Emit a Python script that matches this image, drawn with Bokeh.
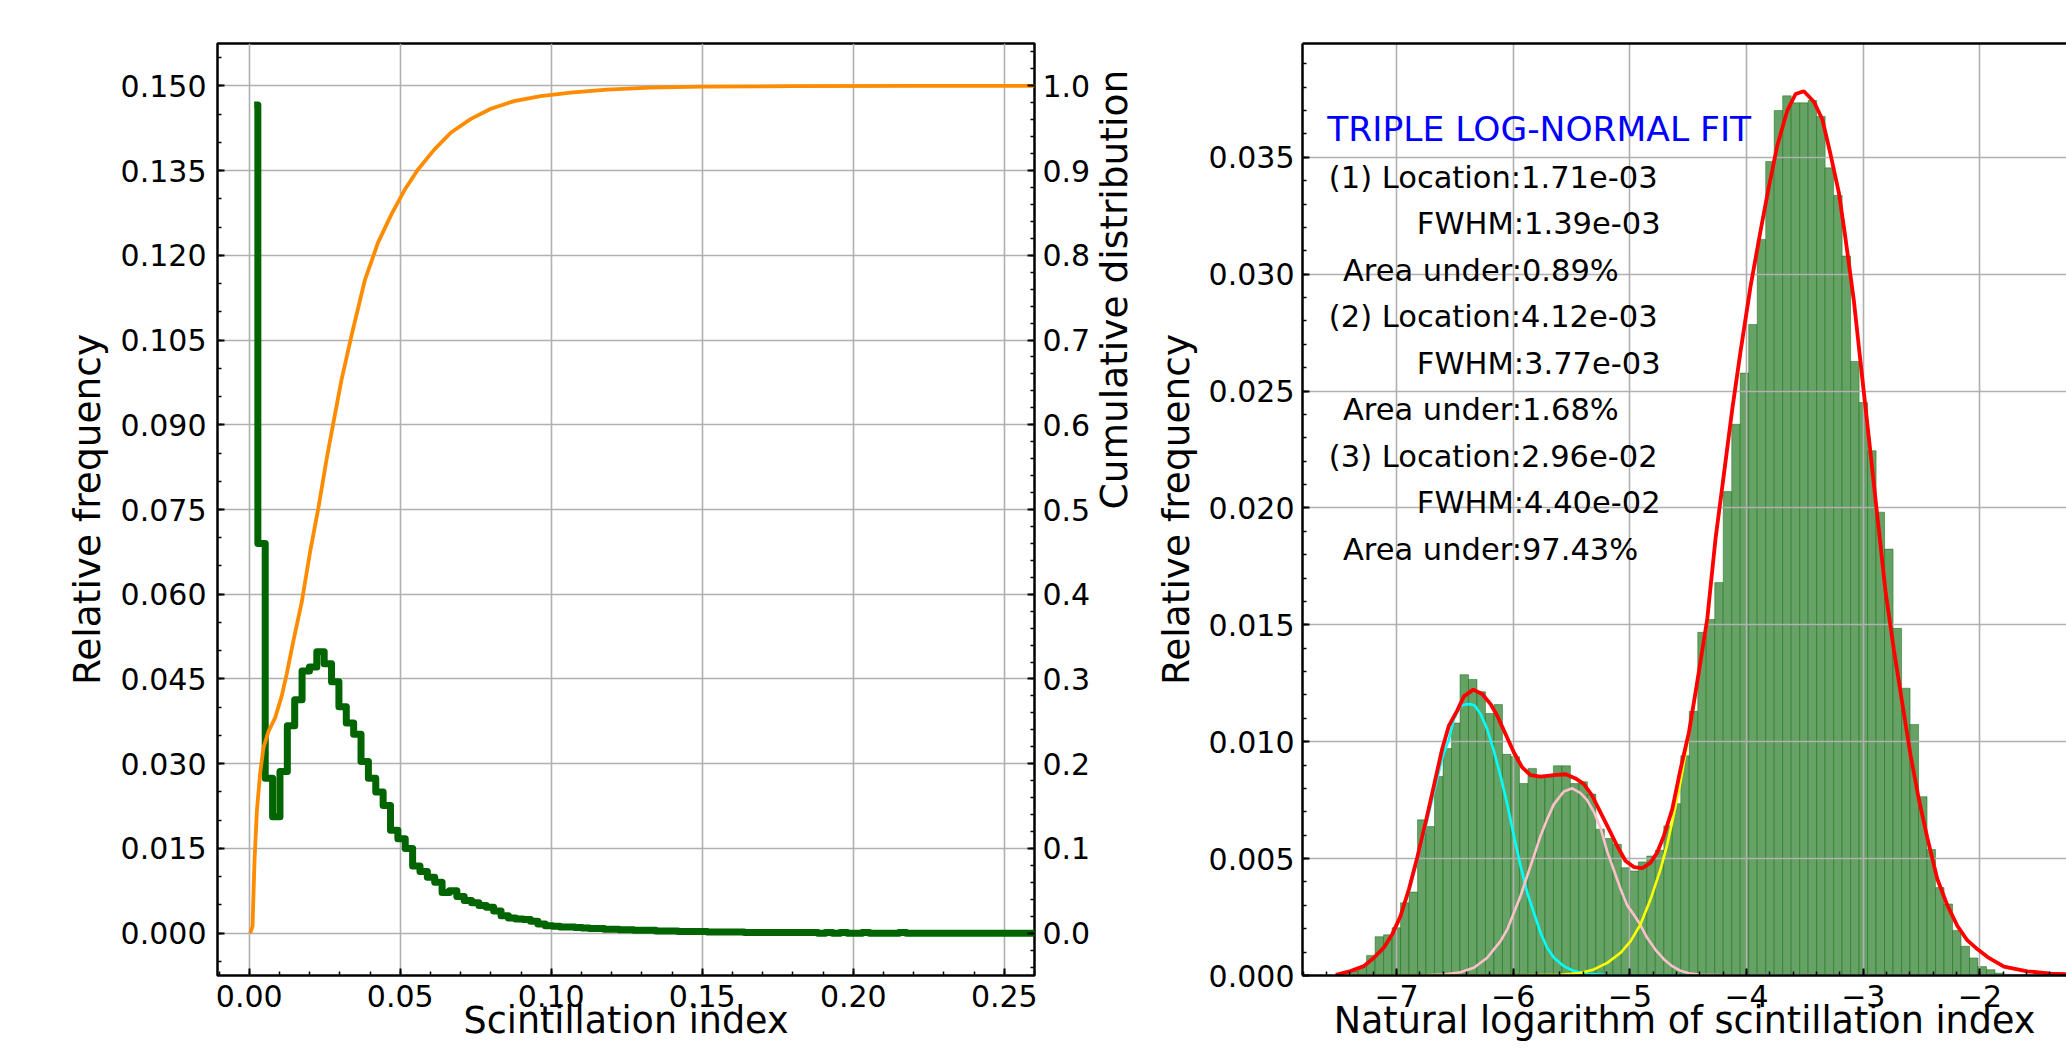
import math
import numpy as np
from bokeh.plotting import figure
from bokeh.layouts import row
from bokeh.models import Range1d, LinearAxis, FixedTicker, NumeralTickFormatter, Label
from bokeh.embed import file_html
from bokeh.resources import INLINE

FONT = "DejaVu Sans"

# ---------------- left panel data ----------------
step_first_center = 0.00164
step_bin_width = 0.00244
step_freq = [
    0.1466, 0.0690, 0.0274, 0.0206, 0.0286, 0.0367, 0.0413, 0.0464, 0.0471, 0.0498,
    0.0477, 0.0445, 0.0401, 0.0372, 0.0352, 0.0304, 0.0274, 0.0250, 0.0226, 0.0182,
    0.0167, 0.0150, 0.0119, 0.0109, 0.0099, 0.0090, 0.0072, 0.0075, 0.0065, 0.0058,
    0.0054, 0.0049, 0.0046, 0.0039, 0.0031, 0.0027, 0.0025, 0.0024, 0.0021, 0.0016,
    0.0013, 0.0012, 0.0011, 0.0011, 0.0010, 0.0009, 0.0008, 0.0008, 0.0007, 0.0007,
    0.0006, 0.0006, 0.0005, 0.0005, 0.0005, 0.0004, 0.0004, 0.0004, 0.0003, 0.0003,
    0.0003, 0.0003, 0.0002, 0.0002, 0.0002, 0.0002, 0.0002, 0.0001, 0.0001, 0.0001,
    0.0001, 0.0001, 0.0001, 0.0001, 0.0001, 0.0001, 0.0001, 0.0000, 0.0001, 0.0000,
    0.0001, 0.0000, 0.0000, 0.0001, 0.0000, 0.0000, 0.0000, 0.0000, 0.0001, 0.0000,
    0.0000, 0.0000, 0.0000, 0.0000, 0.0000, 0.0000, 0.0000, 0.0000, 0.0000, 0.0000,
    0.0000, 0.0000, 0.0000, 0.0000, 0.0000, 0.0000, 0.0000,
]
cdf_x = [0.00033, 0.0011, 0.00176, 0.00253, 0.00363, 0.00473, 0.00637, 0.00857, 0.01077,
         0.01242, 0.01462, 0.01736, 0.02011, 0.02286, 0.0256, 0.0278, 0.03055, 0.03385,
         0.03824, 0.04264, 0.04703, 0.05143, 0.05582, 0.06132, 0.06681, 0.07341, 0.08,
         0.08769, 0.09648, 0.10637, 0.11846, 0.13275, 0.15, 0.18, 0.22, 0.26]
cdf_y = [0.0, 0.008, 0.086, 0.144, 0.189, 0.219, 0.238, 0.254, 0.280,
         0.306, 0.345, 0.390, 0.449, 0.501, 0.559, 0.601, 0.653, 0.705,
         0.770, 0.815, 0.848, 0.877, 0.901, 0.925, 0.945, 0.961, 0.973,
         0.982, 0.988, 0.992, 0.9955, 0.998, 0.999, 0.9997, 1.0, 1.0]

x1_ticks = [0.0, 0.05, 0.10, 0.15, 0.20, 0.25]
y1_ticks = [0.0, 0.015, 0.030, 0.045, 0.060, 0.075, 0.090, 0.105, 0.120, 0.135, 0.150]
cdf_ticks = [0.0, 0.1, 0.2, 0.3, 0.4, 0.5, 0.6, 0.7, 0.8, 0.9, 1.0]

# ---------------- right panel data ----------------
hist_first_edge = -7.475
hist_bin_width = 0.07278
hist_freq = [
    0.00004, 0.00019, 0.00037, 0.00086, 0.00166, 0.00174, 0.00204, 0.00311, 0.00357, 0.00666,
    0.00637, 0.00851, 0.00971, 0.01080, 0.01287, 0.01266, 0.01214, 0.01121, 0.01159, 0.00946,
    0.00936, 0.00821, 0.00886, 0.00850, 0.00850, 0.00897, 0.00897, 0.00821, 0.00829, 0.00776,
    0.00626, 0.00586, 0.00561, 0.00461, 0.00447, 0.00486, 0.00511, 0.00536, 0.00640, 0.00735,
    0.00940, 0.01130, 0.01468, 0.01523, 0.01681, 0.02070, 0.02358, 0.02577, 0.02785, 0.03149,
    0.03482, 0.03700, 0.03763, 0.03733, 0.03733, 0.03743, 0.03675, 0.03455, 0.03337, 0.03078,
    0.02627, 0.02451, 0.02245, 0.01982, 0.01824, 0.01485, 0.01229, 0.01074, 0.00765, 0.00539,
    0.00376, 0.00306, 0.00193, 0.00125, 0.00075, 0.00038, 0.00025, 0.00010, 0.00005,
]

total_x = [-7.52, -7.394, -7.28, -7.194, -7.109, -7.037, -6.966, -6.894, -6.823, -6.751,
           -6.68, -6.609, -6.551, -6.48, -6.423, -6.343, -6.266, -6.194, -6.137, -6.066,
           -5.994, -5.923, -5.851, -5.766, -5.651, -5.551, -5.466, -5.394, -5.323, -5.251,
           -5.18, -5.109, -5.037, -4.966, -4.894, -4.823, -4.766, -4.709, -4.637, -4.566,
           -4.494, -4.423, -4.337, -4.266, -4.194, -4.123, -4.051, -3.966, -3.88, -3.809,
           -3.737, -3.651, -3.58, -3.509, -3.423, -3.351, -3.28, -3.209, -3.151, -3.08,
           -3.023, -2.951, -2.88, -2.809, -2.737, -2.666, -2.594, -2.523, -2.451, -2.366,
           -2.28, -2.194, -2.109, -2.023, -1.923, -1.794, -1.594, -1.394, -1.2]
total_y = [0.00003, 0.00019, 0.0004, 0.00076, 0.00119, 0.00176, 0.00254, 0.00369, 0.00504, 0.00654,
           0.00811, 0.00969, 0.01069, 0.01133, 0.01194, 0.01223, 0.01204, 0.01161, 0.01111, 0.01033,
           0.00954, 0.0089, 0.00857, 0.00851, 0.00857, 0.00861, 0.00843, 0.00819, 0.00769, 0.00697,
           0.00626, 0.00554, 0.0049, 0.00464, 0.00459, 0.00483, 0.00526, 0.00597, 0.00711, 0.00883,
           0.0104, 0.01255, 0.01525, 0.01869, 0.02145, 0.02421, 0.02672, 0.02948, 0.03186, 0.03374,
           0.0355, 0.037, 0.03771, 0.03783, 0.03738, 0.03663, 0.03512, 0.03349, 0.03149, 0.02885,
           0.02622, 0.02296, 0.01969, 0.01643, 0.01392, 0.01167, 0.00941, 0.00753, 0.0059, 0.00414,
           0.00301, 0.00213, 0.00151, 0.00113, 0.00075, 0.00038, 0.00018, 0.00008, 0.00004]

comp1_x = [-7.52, -7.394, -7.28, -7.194, -7.109, -7.037, -6.966, -6.894, -6.823, -6.751,
           -6.68, -6.609, -6.551, -6.509, -6.451, -6.4, -6.37, -6.33, -6.28, -6.223,
           -6.166, -6.109, -6.051, -5.994, -5.937, -5.88, -5.823, -5.766, -5.709, -5.651,
           -5.566, -5.48, -5.366, -5.2, -5.0, -1.2]
comp1_y = [0.00003, 0.00019, 0.0004, 0.00075, 0.00117, 0.00172, 0.00248, 0.0036, 0.0049, 0.00635,
           0.00785, 0.0093, 0.0101, 0.01097, 0.01154, 0.0116, 0.01161, 0.01155, 0.01119, 0.01054,
           0.00961, 0.00854, 0.00733, 0.00597, 0.00469, 0.00354, 0.00269, 0.00183, 0.00119, 0.00076,
           0.0004, 0.00019, 0.00007, 0.00002, 0.0, 0.0]

comp2_x = [-7.52, -6.8, -6.594, -6.451, -6.337, -6.223, -6.109, -6.051, -5.994, -5.937,
           -5.88, -5.823, -5.766, -5.709, -5.651, -5.566, -5.494, -5.423, -5.366, -5.309,
           -5.251, -5.194, -5.137, -5.08, -5.023, -4.966, -4.914, -4.851, -4.78, -4.709,
           -4.637, -4.566, -4.494, -4.4, -4.1, -1.2]
comp2_y = [0.0, 0.0, 0.00004, 0.00014, 0.00033, 0.00076, 0.00147, 0.00197, 0.00269, 0.0034,
           0.00426, 0.00511, 0.00597, 0.00669, 0.00733, 0.00787, 0.00801, 0.0078, 0.0075, 0.0070,
           0.0063, 0.0053, 0.0045, 0.0037, 0.0030, 0.0026, 0.0022, 0.0016, 0.0011, 0.0007,
           0.0004, 0.0002, 0.0001, 0.00003, 0.0, 0.0]

comp3_x = [-7.52, -6.0, -5.594, -5.423, -5.309, -5.194, -5.08, -4.994, -4.909, -4.823,
           -4.737, -4.68, -4.623, -4.566, -4.509, -4.451, -4.394, -4.337, -4.266, -4.194,
           -4.123, -4.051, -3.966, -3.88, -3.809, -3.737, -3.651, -3.58, -3.509, -3.423,
           -3.351, -3.28, -3.209, -3.151, -3.08, -3.023, -2.951, -2.88, -2.809, -2.737,
           -2.666, -2.594, -2.523, -2.451, -2.366, -2.28, -2.194, -2.109, -2.023, -1.923,
           -1.794, -1.594, -1.394, -1.2]
comp3_y = [0.0, 0.0, 0.00003, 0.00011, 0.00026, 0.00054, 0.00097, 0.00147, 0.00219, 0.00326,
           0.00455, 0.0056, 0.0069, 0.0083, 0.0099, 0.0116, 0.0135, 0.0151, 0.01869, 0.02145,
           0.02421, 0.02672, 0.02948, 0.03186, 0.03374, 0.0355, 0.037, 0.03771, 0.03783, 0.03738,
           0.03663, 0.03512, 0.03349, 0.03149, 0.02885, 0.02622, 0.02296, 0.01969, 0.01643, 0.01392,
           0.01167, 0.00941, 0.00753, 0.0059, 0.00414, 0.00301, 0.00213, 0.00151, 0.00113, 0.00075,
           0.00038, 0.00018, 0.00008, 0.00004]

x2_ticks = [-7, -6, -5, -4, -3, -2]
x2_tick_labels = ["\u22127", "\u22126", "\u22125", "\u22124", "\u22123", "\u22122"]
y2_ticks = [0.0, 0.005, 0.010, 0.015, 0.020, 0.025, 0.030, 0.035]

fit_title = "TRIPLE LOG-NORMAL FIT"
fit_lines = [
    "(1) Location:1.71e-03",
    "FWHM:1.39e-03",
    "Area under:0.89%",
    "(2) Location:4.12e-03",
    "FWHM:3.77e-03",
    "Area under:1.68%",
    "(3) Location:2.96e-02",
    "FWHM:4.40e-02",
    "Area under:97.43%",
]

FRAME_TOP = 43
FRAME_BOTTOM = 975
FIG_H = 1051
OVERLAP = 11


def style_axis(ax):
    ax.major_label_text_font = FONT
    ax.major_label_text_font_size = "30px"
    ax.major_label_text_color = "black"
    ax.axis_label_text_font = FONT
    ax.axis_label_text_font_size = "37.5px"
    ax.axis_label_text_font_style = "normal"
    ax.axis_label_text_color = "black"
    ax.major_tick_in = 7
    ax.major_tick_out = 0
    ax.minor_tick_in = 4
    ax.minor_tick_out = 0
    ax.major_tick_line_width = 2
    ax.minor_tick_line_width = 1.5
    ax.major_tick_line_color = "black"
    ax.minor_tick_line_color = "black"
    ax.major_label_standoff = 10


def style_grid(g):
    g.grid_line_color = "#b0b0b0"
    g.grid_line_width = 1.6


# ================= left figure =================
p1 = figure(width=1150 + OVERLAP, height=FIG_H, x_range=Range1d(-0.0105, 0.26),
            y_range=Range1d(-0.0075, 0.1575), output_backend="svg",
            toolbar_location=None, title=None,
            min_border_left=217, min_border_right=116 + OVERLAP, min_border_top=FRAME_TOP,
            min_border_bottom=FIG_H - FRAME_BOTTOM)
p1.background_fill_color = "white"
p1.border_fill_color = "white"
p1.outline_line_color = "black"
p1.outline_line_width = 2.5
p1.extra_y_ranges = {"cdf": Range1d(-0.05, 1.05)}

xt1 = FixedTicker(ticks=x1_ticks, minor_ticks=list(np.round(np.arange(-0.01, 0.2601, 0.01), 4)))
yt1 = FixedTicker(ticks=y1_ticks, minor_ticks=list(np.round(np.arange(-0.005, 0.1551, 0.005), 4)))
ct1 = FixedTicker(ticks=cdf_ticks, minor_ticks=list(np.round(np.arange(-0.04, 1.041, 0.02), 4)))

p1.xaxis.ticker = xt1
p1.yaxis.ticker = yt1
p1.xgrid.ticker = xt1
p1.ygrid.ticker = yt1
p1.xaxis.formatter = NumeralTickFormatter(format="0.00")
p1.yaxis.formatter = NumeralTickFormatter(format="0.000")
p1.yaxis.axis_label = "Relative frequency"
p1.xaxis.axis_label = "Scintillation index"
for ax in p1.xaxis + p1.yaxis:
    style_axis(ax)
    ax.axis_line_color = None
p1.xaxis.major_label_standoff = 9
p1.xaxis.axis_label_text_font_size = "36.5px"
p1.xaxis.axis_label_standoff = -11
p1.yaxis.major_label_standoff = 11
p1.yaxis.axis_label_standoff = 9
style_grid(p1.xgrid[0])
style_grid(p1.ygrid[0])

cax = LinearAxis(y_range_name="cdf", ticker=ct1, formatter=NumeralTickFormatter(format="0.0"),
                 axis_label="Cumulative distribution")
style_axis(cax)
cax.axis_line_color = None
cax.major_label_standoff = 8
cax.axis_label_orientation = math.pi / 2
cax.axis_label_standoff = 21
p1.add_layout(cax, "right")

step_centers = [step_first_center + i * step_bin_width for i in range(len(step_freq))]
p1.step(x=step_centers, y=step_freq, mode="center", line_color="darkgreen",
        line_width=7, line_join="round")
p1.line(cdf_x, cdf_y, y_range_name="cdf", line_color="darkorange", line_width=3.8)

# ================= right figure =================
p2 = figure(width=916, height=FIG_H, x_range=Range1d(-7.806, -1.258),
            y_range=Range1d(0.0, 0.03987), output_backend="svg",
            toolbar_location=None, title=None, margin=(0, 0, 0, -OVERLAP),
            min_border_left=152, min_border_right=0, min_border_top=FRAME_TOP,
            min_border_bottom=FIG_H - FRAME_BOTTOM)
p2.background_fill_color = "white"
p2.border_fill_color = None
p2.outline_line_color = None

xt2 = FixedTicker(ticks=x2_ticks, minor_ticks=list(np.round(np.arange(-7.8, -1.3, 0.2), 4)))
yt2 = FixedTicker(ticks=y2_ticks, minor_ticks=list(np.round(np.arange(0.0, 0.0395, 0.001), 4)))
p2.xaxis.ticker = xt2
p2.yaxis.ticker = yt2
p2.xgrid.ticker = xt2
p2.ygrid.ticker = yt2
p2.xaxis.major_label_overrides = {t: l for t, l in zip(x2_ticks, x2_tick_labels)}
p2.yaxis.formatter = NumeralTickFormatter(format="0.000")
p2.yaxis.axis_label = "Relative frequency"
p2.xaxis.axis_label = "Natural logarithm of scintillation index"
for ax in p2.xaxis + p2.yaxis:
    style_axis(ax)
    ax.axis_line_color = "black"
    ax.axis_line_width = 2.5
p2.xaxis.major_label_standoff = 9
p2.xaxis.axis_label_text_font_size = "36.5px"
p2.xaxis.axis_label_standoff = -11
p2.yaxis.major_label_standoff = 8
p2.yaxis.axis_label_standoff = 8
style_grid(p2.xgrid[0])
style_grid(p2.ygrid[0])

top_ax = LinearAxis(ticker=FixedTicker(ticks=[]), major_tick_in=0, major_tick_out=0,
                    minor_tick_in=0, minor_tick_out=0, major_label_text_font_size="0px",
                    axis_line_color="black", axis_line_width=2.5)
p2.add_layout(top_ax, "above")

lefts = [hist_first_edge + k * hist_bin_width for k in range(len(hist_freq))]
rights = [l + hist_bin_width for l in lefts]
p2.quad(left=lefts, right=rights, bottom=0, top=hist_freq, fill_color="#66a266",
        line_color="darkgreen", line_alpha=0.45, line_width=1, level="image")

p2.line(comp1_x, comp1_y, line_color="cyan", line_width=2.6)
p2.line(comp2_x, comp2_y, line_color="pink", line_width=2.6)
p2.line(comp3_x, comp3_y, line_color="yellow", line_width=2.6)
p2.line(total_x, total_y, line_color="red", line_width=3.8)

p2.add_layout(Label(x=-7.594, y=0.036219, text=fit_title, text_align="left",
                    text_baseline="alphabetic", text_font=FONT, text_font_size="34.5px",
                    text_color="blue"))
line_x = [-7.580, -6.826, -7.459] * 3
for i, (txt, lx) in enumerate(zip(fit_lines, line_x)):
    yb = (FRAME_BOTTOM - (176.7 + 46.5 * i)) / 23377.0
    p2.add_layout(Label(x=lx, y=yb, text=txt, text_align="left", text_baseline="alphabetic",
                        text_font=FONT, text_font_size="30.5px", text_color="black"))

layout = row(p1, p2)
open("out.html", "w").write(file_html(layout, INLINE))
